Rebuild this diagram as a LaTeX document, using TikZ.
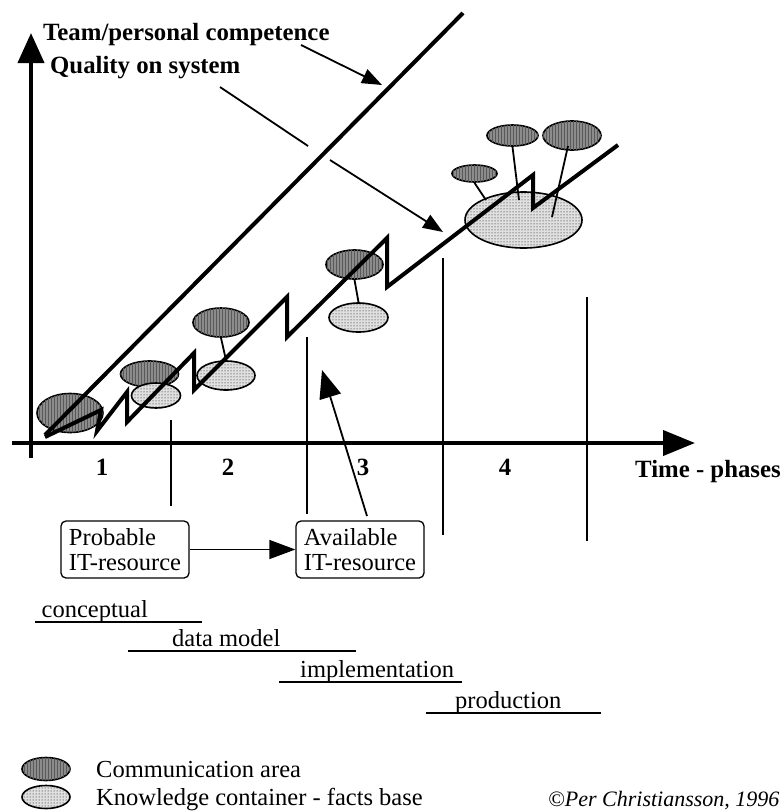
\documentclass[tikz,border=0pt]{standalone}
\usepackage{fontspec}
\setmainfont{Liberation Serif}
\usetikzlibrary{arrows.meta,patterns,shapes.geometric}
\begin{document}
\begin{tikzpicture}[x=1pt,y=-1pt,
  thickline/.style={line width=4pt, line join=miter},
  thinline/.style={line width=1.8pt},
  uline/.style={line width=1.6pt},
  comm/.style={ellipse, draw, line width=1.6pt, inner sep=0pt, fill=black!45,
    postaction={pattern=vertical lines, pattern color=black!65}},
  know/.style={ellipse, draw, line width=1.6pt, inner sep=0pt, fill=black!12,
    postaction={pattern=dots, pattern color=black}},
  lbl/.style={font=\fontsize{24.5}{25}\selectfont, inner sep=0pt},
  blbl/.style={font=\fontsize{24.8}{25}\selectfont\bfseries, inner sep=0pt},
  itbox/.style={draw, line width=1.3pt, rounded corners=5pt, inner xsep=8pt, inner ysep=0pt,
    minimum height=57pt, align=left, font=\fontsize{24.5}{25}\selectfont},
  ptr/.style={line width=1.8pt, -{Triangle[length=20pt,width=15pt]}}
]
\useasboundingbox (0,0) rectangle (784,812);

% axes
\coordinate (yb) at (31,458); \coordinate (yt) at (31,33);
\draw[line width=4pt, -{Triangle[length=30pt,width=26pt]}] (yb) -- (yt);
\coordinate (xl) at (12,443); \coordinate (xr) at (695,443);
\draw[line width=4pt, -{Triangle[length=32pt,width=25pt]}] (xl) -- (xr);

% phase separators
\draw[thinline] (171,420) -- (171,506);
\draw[thinline] (307,337) -- (307,514);
\draw[thinline] (443,258) -- (443,535);
\draw[thinline] (587,297) -- (587,541);

% ellipses
\node[comm, minimum width=66pt, minimum height=39pt] (e1) at (70,413) {};
\node[comm, minimum width=58pt, minimum height=26pt] (e2) at (149.5,374) {};
\node[know, minimum width=49pt, minimum height=25pt] (e3) at (156,395.5) {};
\node[comm, minimum width=56pt, minimum height=29pt] (e4) at (221,322.5) {};
\node[know, minimum width=58pt, minimum height=29pt] (e5) at (226,375.5) {};
\node[comm, minimum width=57pt, minimum height=29pt] (e6) at (354.5,264.5) {};
\node[know, minimum width=59pt, minimum height=29pt] (e7) at (358.5,317.5) {};
\node[know, minimum width=117pt, minimum height=56pt] (e8) at (523.5,220) {};
\node[comm, minimum width=45pt, minimum height=17pt] (e9) at (474.5,173.5) {};
\node[comm, minimum width=51pt, minimum height=21pt] (e10) at (512.5,135.5) {};
\node[comm, minimum width=58pt, minimum height=29pt] (e11) at (572,135.5) {};

% ellipse connectors
\draw[thinline] (e4.south) -- (e5.north);
\draw[thinline] (e6.south) -- (e7.north);
\coordinate (c9) at (486,200);
\draw[thinline] (e9.south) -- (c9);
\coordinate (c10) at (519,200);
\draw[thinline] (e10.south) -- (c10);
\coordinate (c11a) at (568,146); \coordinate (c11b) at (552,217);
\draw[thinline] (c11a) -- (c11b);

% competence line
\coordinate (cs) at (45,435); \coordinate (ce) at (463,13);
\draw[thickline] (cs) -- (ce);

% quality zigzag
\draw[thickline] (45,437) -- (101,410) -- (97,431) -- (127,392) -- (127,422)
  -- (194,353) -- (194,390) -- (287,297) -- (287,337) -- (387,238) -- (387,287)
  -- (533,175) -- (533,208) -- (618,145);

% titles and pointers
\node[blbl, anchor=base west] (tteam) at (43,40) {Team/personal competence};
\node[blbl, anchor=base west] (tqual) at (50,73) {Quality on system};
\coordinate (p1s) at (301,45); \coordinate (p1e) at (382,85);
\draw[ptr] (p1s) -- (p1e);
\coordinate (q1) at (220,87); \coordinate (q2) at (308,146);
\coordinate (q3) at (330,160); \coordinate (q4) at (443,232);
\draw[thinline] (q1) -- (q2);
\draw[ptr] (q3) -- (q4);

% axis labels
\node[blbl, anchor=base west] (time) at (635,477) {Time - phases};
\node[blbl, anchor=base] (ph1) at (102,475) {1};
\node[blbl, anchor=base] (ph2) at (228,475) {2};
\node[blbl, anchor=base] (ph3) at (363,475) {3};
\node[blbl, anchor=base] (ph4) at (505,475) {4};

% IT-resource boxes
\node[itbox] (prob) at (125,549.5) {Probable\\IT-resource};
\node[itbox] (avail) at (360,549.5) {Available\\IT-resource};
\draw[line width=1.5pt, -{Triangle[length=26pt,width=19pt]}] (prob) -- (avail);
\coordinate (a3) at (367,516); \coordinate (a3t) at (322,370);
\draw[line width=1.8pt, -{Triangle[length=28pt,width=22pt]}] (a3) -- (a3t);

% life cycle
\node[lbl, anchor=base west] (lc1) at (41.5,617) {conceptual};
\draw[uline] (35,622) -- (202,622);
\node[lbl, anchor=base west] (lc2) at (172,646) {data model};
\draw[uline] (128,651) -- (356,651);
\node[lbl, anchor=base west] (lc3) at (300,677) {implementation};
\draw[uline] (279,682) -- (462,682);
\node[lbl, anchor=base west] (lc4) at (455,708) {production};
\draw[uline] (426,713) -- (601,713);

% legend
\node[comm, minimum width=48pt, minimum height=23pt] (lgc) at (46,769) {};
\node[lbl, anchor=base west] (lgct) at (96,777) {Communication area};
\node[know, minimum width=48pt, minimum height=23pt] (lgk) at (46,797) {};
\node[lbl, anchor=base west] (lgkt) at (96,805) {Knowledge container - facts base};
\node[font=\fontsize{22}{22}\selectfont\itshape, inner sep=0pt, anchor=base west] (copy) at (548,806) {©Per Christiansson, 1996};
\end{tikzpicture}
\end{document}
